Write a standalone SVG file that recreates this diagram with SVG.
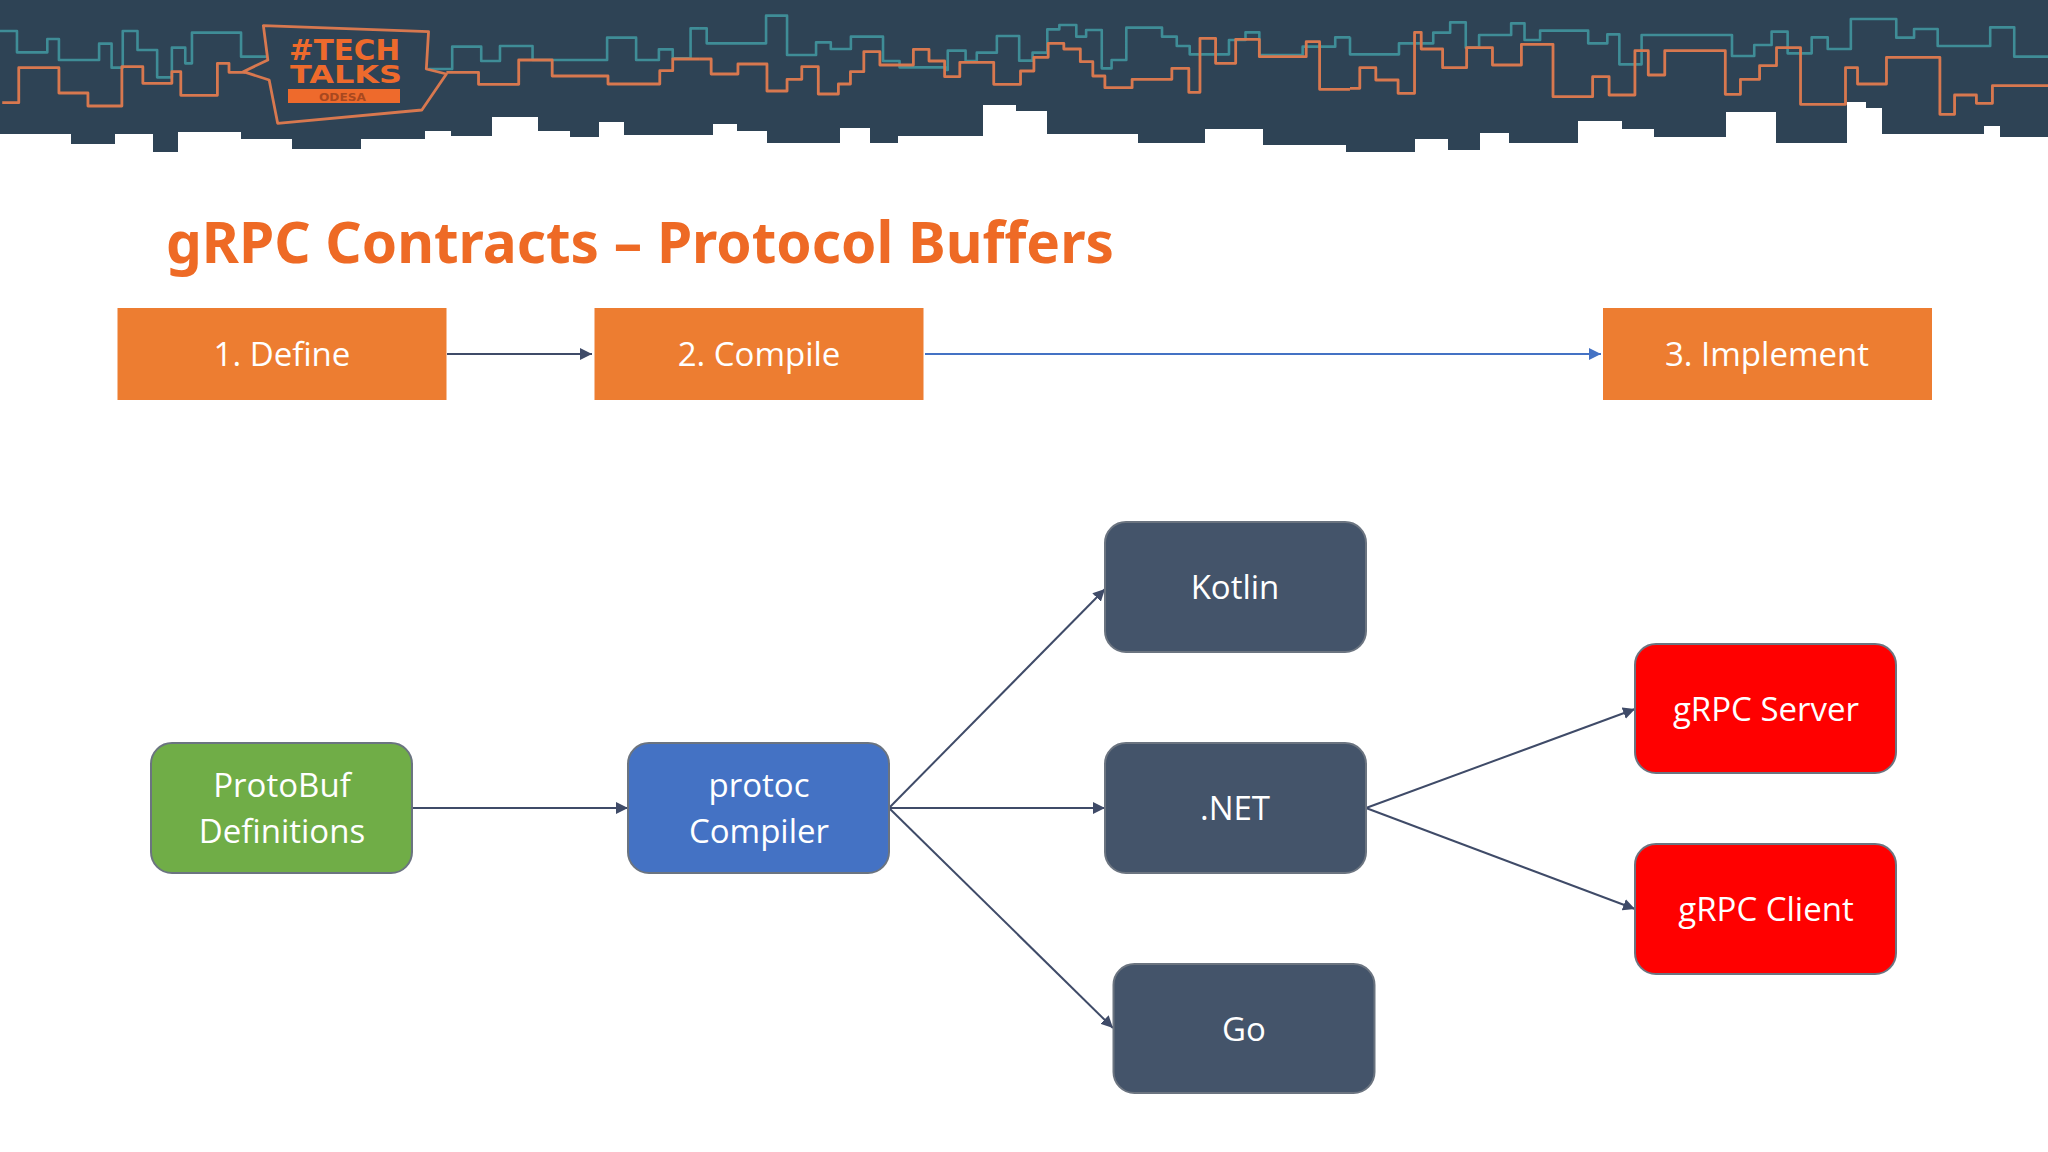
<svg xmlns="http://www.w3.org/2000/svg" width="2048" height="1152" viewBox="0 0 2048 1152">
<style>
text{font-family:"Open Sans","Noto Sans","Liberation Sans",sans-serif}
.t{fill:none;stroke:#3f8d97;stroke-width:2.6;stroke-linejoin:round;vector-effect:non-scaling-stroke}
.o{fill:none;stroke:#d8784f;stroke-width:2.8;stroke-linejoin:round;vector-effect:non-scaling-stroke}
.step{fill:#ed7d31}
.r{stroke-width:2;stroke:#6b7480}
.dark{fill:#44546a}
.lbl{fill:#fff;font-size:33px;text-anchor:middle}
.c{fill:none;stroke:#3f4b68;stroke-width:2;marker-end:url(#a)}
.cb{fill:none;stroke:#4472c4;stroke-width:2.2;marker-end:url(#b)}
.logo{font-family:"DejaVu Sans","Liberation Sans",sans-serif;font-weight:bold;fill:#ee6a2c}
</style>
<defs>
<marker id="a" markerUnits="userSpaceOnUse" markerWidth="13" markerHeight="13" refX="12" refY="6" orient="auto"><path d="M0 0L12 6L0 12Z" fill="#3f4b68"/></marker>
<marker id="b" markerUnits="userSpaceOnUse" markerWidth="13" markerHeight="13" refX="12" refY="6" orient="auto"><path d="M0 0L12 6L0 12Z" fill="#4472c4"/></marker>
</defs>
<rect width="2048" height="1152" fill="#fff"/>
<g id="banner">
<path fill="#2e4355" d="M0 0H2048V137H2000V126H1984V134H1882V108H1866V102H1847V143H1776V112H1726V137H1654V129H1622V121H1578V143H1509V133H1480V150H1448V139H1415V152H1346V145H1263V129H1205V143H1138V134H1047V111H1016V105H983V136H898V143H870V128H840V143H767V131H737V124H713V135H624V122H599V137H570V131H538V117H492V136H451V131H425V139H361V149H292V139H241V132H178V152H153V134H115V144H71V134H0Z"/>
<g transform="scale(0.4464 0.3333)">
<polyline class="t" points="0,93 38,93 38,157 106,157 106,117 132,117 132,180 222,180 222,131 250,131 250,203 275,203 275,93 308,93 308,150 352,150 352,232 385,232 385,143 415,143 415,190 430,190 430,98 540,98 540,170 600,170"/>
<polyline class="t" points="960,207 1013,207 1013,140 1078,140 1078,183 1120,183 1120,138 1193,138 1193,180 1360,180 1360,113 1425,113 1425,180 1476,180 1476,148 1507,148 1507,175 1547,175 1547,85 1568,85"/>
<polyline class="o" points="5,308 42,308 42,203 132,203 132,279 197,279 197,318 273,318 273,200 320,200 320,250 385,250 385,215 405,215 405,286 487,286 487,190 513,190 513,217 550,217"/>
<polyline class="o" points="1000,217 1072,217 1072,253 1162,253 1162,180 1237,180 1237,228 1362,228 1362,252 1478,252 1478,212 1507,212 1507,177 1568,177"/>
<polygon class="o" points="590,77 960,95 955,207 1000,222 945,330 622,370 603,240 545,215 600,180"/>
</g>
<g transform="translate(700 0) scale(0.4464 0.3333)">
<polyline class="t" points="0,85 15,85 15,130 148,130 148,47 195,47 195,165 260,165 260,127 293,127 293,147 338,147 338,110 410,110 410,183 447,183 447,202 550,202 550,210 555,210 555,152 595,152 595,183 620,183 620,158 665,158 665,108 715,108 715,182 745,182 745,158 778,158 778,88 805,88 805,75 843,75 843,110 865,110 865,90 900,90 900,205 922,205 922,180 955,180 955,83 1035,83 1035,110 1068,110 1068,138 1097,138 1097,163 1185,163 1185,120 1222,120 1222,97 1253,97 1253,165 1350,165 1350,140 1423,140 1423,112 1457,112"/>
<polyline class="o" points="0,177 25,177 25,222 85,222 85,192 150,192 150,273 195,273 195,238 228,238 228,200 265,200 265,282 310,282 310,252 337,252 337,215 367,215 367,155 403,155 403,195 478,195 478,148 513,148 513,183 548,183 548,230 582,230 582,187 658,187 658,253 718,253 718,213 748,213 748,172 780,172 780,130 815,130 815,147 852,147 852,185 880,185 880,228 907,228 907,263 968,263 968,238 1057,238 1057,205 1095,205 1095,277 1120,277 1120,115 1155,115 1155,190 1200,190 1200,118 1253,118 1253,170 1358,170 1358,125 1388,125 1388,268 1456,268"/>
</g>
<g transform="translate(1350 0) scale(0.4452 0.3333)">
<polyline class="t" points="0,112 0,163 110,163 110,130 187,130 187,98 225,98 225,67 260,67 260,143 290,143 290,105 362,105 362,70 392,70 392,120 427,120 427,92 535,92 535,130 578,130 578,103 605,103 605,193 655,193 655,105 858,105 858,168 908,168 908,135 947,135 947,95 983,95 983,160 1037,160 1037,112 1073,112 1073,147 1125,147 1125,57 1227,57 1227,113 1267,113 1267,87 1320,87 1320,138 1438,138 1438,82 1492,82 1492,170 1568,170"/>
<polyline class="o" points="0,265 22,265 22,203 58,203 58,240 108,240 108,280 145,280 145,97 160,97 160,147 208,147 208,203 262,203 262,143 320,143 320,195 385,195 385,133 456,133 456,290 545,290 545,230 582,230 582,285 640,285 640,152 670,152 670,225 707,225 707,152 843,152 843,283 877,283 877,238 920,238 920,197 958,197 958,143 1012,143 1012,313 1113,313 1113,203 1140,203 1140,252 1205,252 1205,172 1325,172 1325,343 1358,343 1358,285 1407,285 1407,310 1443,310 1443,257 1568,257"/>
</g>
<text class="logo" x="289" y="60" font-size="29" textLength="111" lengthAdjust="spacingAndGlyphs">#TECH</text>
<text class="logo" x="290" y="83" font-size="25" textLength="112" lengthAdjust="spacingAndGlyphs">TALKS</text>
<rect x="288" y="89" width="112" height="14" fill="#ee6a2c"/>
<text class="logo" x="319" y="101" font-size="11" textLength="47" lengthAdjust="spacingAndGlyphs" style="fill:#a8481f">ODESA</text>
</g>
<text id="title" x="166" y="263" font-size="58" font-weight="700" fill="#ee6a25" style="font-family:'Noto Sans','Open Sans',sans-serif" textLength="948" lengthAdjust="spacingAndGlyphs">gRPC Contracts – Protocol Buffers</text>
<g id="connectors">
<line class="c" x1="447" y1="354" x2="592" y2="354"/>
<line class="cb" x1="925" y1="354" x2="1601" y2="354"/>
<line class="c" x1="412" y1="808" x2="628" y2="808"/>
<line class="c" x1="889" y1="808" x2="1105" y2="589"/>
<line class="c" x1="889" y1="808" x2="1105" y2="808"/>
<line class="c" x1="889" y1="808" x2="1113" y2="1028"/>
<line class="c" x1="1366" y1="808" x2="1635" y2="709"/>
<line class="c" x1="1366" y1="808" x2="1635" y2="909"/>
</g>
<g id="step1"><rect class="step" x="117.5" y="308" width="329" height="92"/><text class="lbl" x="282" y="366">1. Define</text></g>
<g id="step2"><rect class="step" x="594.5" y="308" width="329" height="92"/><text class="lbl" x="759" y="366">2. Compile</text></g>
<g id="step3"><rect class="step" x="1603" y="308" width="329" height="92"/><text class="lbl" x="1767" y="366">3. Implement</text></g>
<g id="protobuf"><rect class="r" x="151" y="743" width="261" height="130" rx="21" fill="#70ad47"/><text class="lbl" x="282" y="797">ProtoBuf</text><text class="lbl" x="282" y="843">Definitions</text></g>
<g id="protoc"><rect class="r" x="628" y="743" width="261" height="130" rx="21" fill="#4472c4"/><text class="lbl" x="759" y="797">protoc</text><text class="lbl" x="759" y="843">Compiler</text></g>
<g id="kotlin"><rect class="r dark" x="1105" y="522" width="261" height="130" rx="21"/><text class="lbl" x="1235" y="599">Kotlin</text></g>
<g id="dotnet"><rect class="r dark" x="1105" y="743" width="261" height="130" rx="21"/><text class="lbl" x="1235" y="820">.NET</text></g>
<g id="go"><rect class="r dark" x="1113.5" y="964" width="261" height="129" rx="21"/><text class="lbl" x="1244" y="1041">Go</text></g>
<g id="server"><rect class="r" x="1635" y="644" width="261" height="129" rx="21" fill="#ff0000"/><text class="lbl" x="1766" y="721">gRPC Server</text></g>
<g id="client"><rect class="r" x="1635" y="844" width="261" height="130" rx="21" fill="#ff0000"/><text class="lbl" x="1766" y="921">gRPC Client</text></g>
</svg>
